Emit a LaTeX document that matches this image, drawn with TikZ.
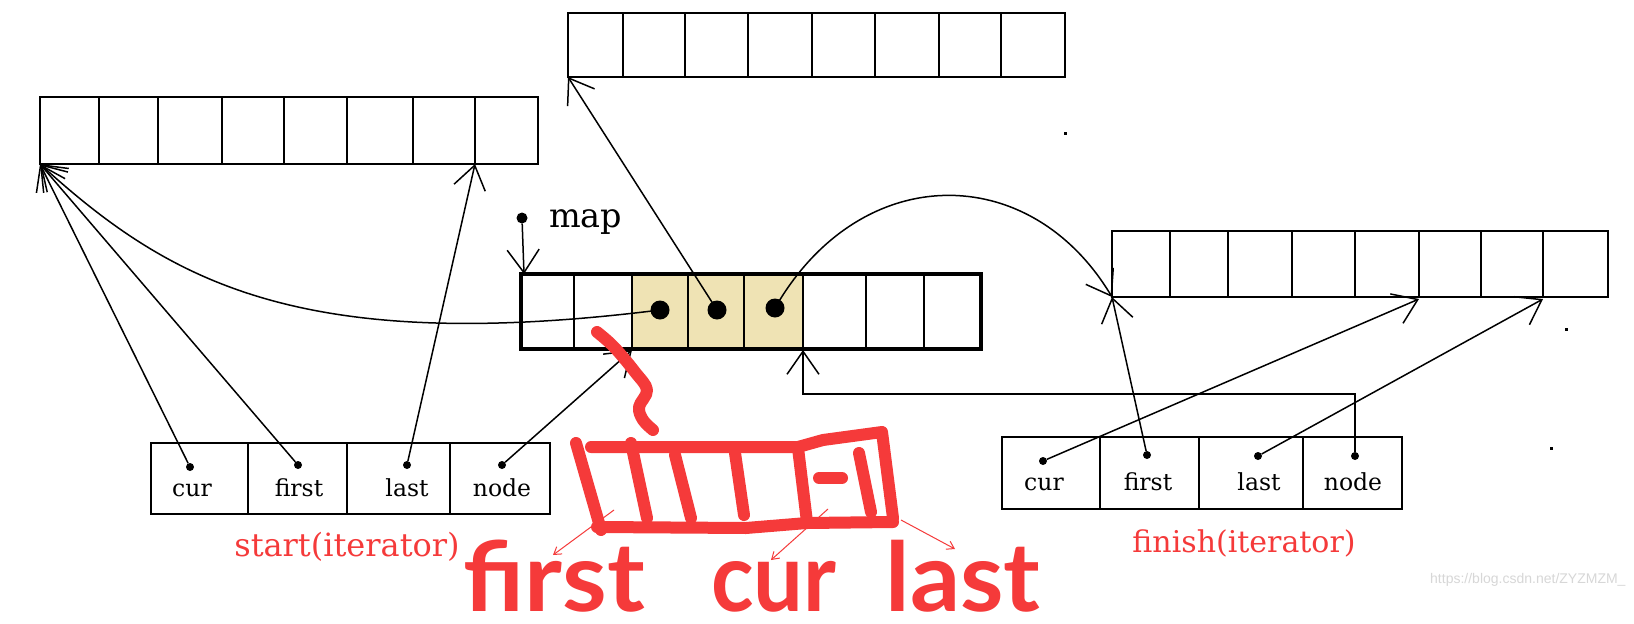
\documentclass[tikz,border=0pt]{standalone}
\usepackage{fontspec}
\setmainfont{DejaVu Serif}
\newfontfamily\handfont{Lato}
\newfontfamily\wmfont{Liberation Sans}
\usetikzlibrary{arrows.meta}
\definecolor{redink}{RGB}{245,58,58}
\definecolor{shadecell}{RGB}{239,227,180}
\definecolor{wmgray}{RGB}{215,215,215}
\tikzset{
  barb/.style={-{Straight Barb[length=23pt,width=32pt]}},
  conn/.style={line width=1.5pt, barb},
  buf/.style={line width=2.4pt},
  dotn/.style={circle, fill=black, inner sep=0pt, minimum size=8pt},
  bigdot/.style={circle, fill=black, inner sep=0pt, minimum size=19pt},
  lbl/.style={font=\fontsize{23.5}{28}\selectfont, inner sep=0pt},
  redlbl/.style={text=redink, font=\fontsize{30}{36}\selectfont, inner sep=0pt},
  pen/.style={draw=redink, line width=12pt, line cap=round, line join=round},
  thinred/.style={draw=redink, line width=1pt, -{Straight Barb[length=7pt,width=9pt]}},
  hand/.style={text=redink, font=\handfont\bfseries\fontsize{96}{96}\selectfont, inner xsep=4pt, inner ysep=0pt, text depth=0pt},
  speck/.style={fill=black, inner sep=0pt, minimum size=3pt},
}
\begin{document}
\begin{tikzpicture}[x=1pt,y=-1pt]
\useasboundingbox[fill=white] (0,0) rectangle (1634,624);

% left buffer
\draw[buf] (40,97) rectangle (538,164);
\foreach \x in {99,158,222,284,347,413,475} \draw[buf] (\x,97) -- (\x,164);
\coordinate (L0) at (40,164);
\coordinate (L7) at (475,164);

% top buffer
\draw[buf] (568,13) rectangle (1065,77);
\foreach \x in {623,685,748,812,875,939,1001} \draw[buf] (\x,13) -- (\x,77);
\coordinate (T0) at (568,77);

% right buffer
\draw[buf] (1112,231) rectangle (1608,297);
\foreach \x in {1170,1228,1292,1355,1419,1481,1543} \draw[buf] (\x,231) -- (\x,297);
\coordinate (R0) at (1112,297);
\coordinate (R5) at (1419,299);
\coordinate (R7) at (1543,299);

% map
\fill[shadecell] (632,274) rectangle (803,349);
\foreach \x in {574,632,688,744,803,866,924} \draw[line width=2pt] (\x,274) -- (\x,349);
\draw[line width=4pt] (521,274) rectangle (981,349);
\coordinate (M0) at (524,274);
\coordinate (M2b) at (632,350);
\coordinate (M5b) at (803,350);
\node[bigdot] (d1) at (660,310) {};
\node[bigdot] (d2) at (717,310) {};
\node[bigdot] (d3) at (775,308) {};
\node[dotn, minimum size=11pt] (mapdot) at (522,218) {};
\node[font=\fontsize{33.5}{40}\selectfont, anchor=base west, inner sep=0pt] (maplbl) at (549,227) {map};

% left iterator
\draw[line width=2.4pt] (151,443) rectangle (550,514);
\foreach \x in {248,347,450} \draw[line width=2.4pt] (\x,443) -- (\x,514);
\node[lbl, anchor=base] (lcurt) at (192,496) {cur};
\node[lbl, anchor=base] (lfirstt) at (299,496) {first};
\node[lbl, anchor=base] (llastt) at (407,496) {last};
\node[lbl, anchor=base] (lnodet) at (502,496) {node};
\node[dotn] (lc) at (190,467) {};
\node[dotn] (lf) at (298,465) {};
\node[dotn] (ll) at (407,465) {};
\node[dotn] (ln) at (502,465) {};
\node[redlbl, anchor=base, font=\fontsize{32}{38}\selectfont] (startlbl) at (347,556) {start(iterator)};

% right iterator
\draw[line width=2.4pt] (1002,437) rectangle (1402,509);
\foreach \x in {1100,1199,1303} \draw[line width=2.4pt] (\x,437) -- (\x,509);
\node[lbl, anchor=base] (rcurt) at (1044,490) {cur};
\node[lbl, anchor=base] (rfirstt) at (1148,490) {first};
\node[lbl, anchor=base] (rlastt) at (1259,490) {last};
\node[lbl, anchor=base] (rnodet) at (1353,490) {node};
\node[dotn] (rc) at (1043,461) {};
\node[dotn] (rf) at (1147,455) {};
\node[dotn] (rl) at (1258,456) {};
\node[dotn] (rn) at (1355,456) {};
\node[redlbl, anchor=base] (finishlbl) at (1244,552) {finish(iterator)};

% black connectors
\draw[conn] (mapdot) -- (M0);
\draw[conn] (lc) -- (L0);
\draw[conn] (lf) -- (L0);
\draw[conn] (ll) -- (L7);
\draw[conn] (ln) -- (M2b);
\draw[conn] (d1.center) .. controls (300,355) and (170,282) .. (L0);
\draw[conn] (d2.center) -- (T0);
\draw[conn] (d3.center) .. controls (860,160) and (1030,160) .. (R0);
\draw[conn] (rf) -- (R0);
\draw[conn] (rc) -- (R5);
\draw[conn] (rl) -- (R7);
\draw[conn] (rn) -- (1355,394) -- (803,394) -- (M5b);

% specks
\node[speck] (s1) at (1065,133) {};
\node[speck] (s2) at (1566,329) {};
\node[speck] (s3) at (1551,448) {};

% red handwriting
\node[hand, anchor=base] (hfirst) at (554,611) {\scalebox{1.06}[1]{first}};
\node[hand, anchor=base] (hcur) at (774,611) {\scalebox{0.92}[1]{cur}};
\node[hand, anchor=base] (hlast) at (963,611) {\scalebox{1.03}[1]{last}};
\coordinate (rf0) at (614,510);
\coordinate (rf1) at (553,555);
\coordinate (rc0) at (828,509);
\coordinate (rc1) at (771,560);
\coordinate (rl0) at (901,520);
\coordinate (rl1) at (955,549);
\draw[thinred] (rf0) -- (rf1);
\draw[thinred] (rc0) -- (rc1);
\draw[thinred] (rl0) -- (rl1);

\draw[pen] plot[smooth, tension=0.6] coordinates {(597,332) (614,347) (635,372) (647,390) (639,407) (643,420) (653,430)};
\draw[pen] (576,443) -- (601,530);
\draw[pen] (591,447) -- (798,447) -- (823,440) -- (882,432) -- (893,518);
\draw[pen] (597,527) -- (746,528) -- (807,523) -- (893,522);
\draw[pen] (631,443) -- (647,518);
\draw[pen] (675,455) -- (691,518);
\draw[pen] (735,453) -- (744,515);
\draw[pen] (798,448) -- (807,522);
\draw[pen] (819,478) -- (842,478);
\draw[pen] (859,453) -- (871,512);

% watermark
\node[text=wmgray, font=\wmfont\fontsize{14}{16}\selectfont, anchor=base west, inner sep=0pt] (wm) at (1430,583) {https://blog.csdn.net/ZYZMZM\_};
\end{tikzpicture}
\end{document}
